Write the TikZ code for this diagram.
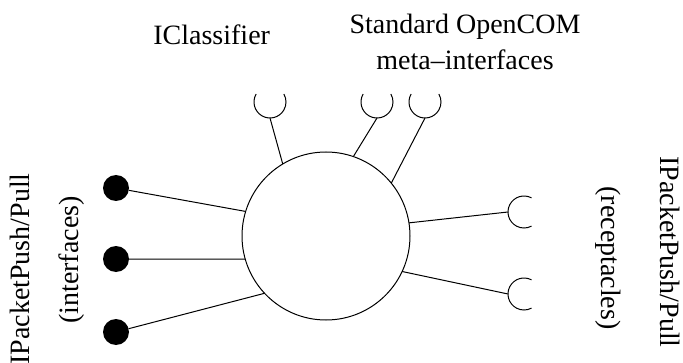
\documentclass[tikz,border=0pt]{standalone}
\usepackage{fontspec}
\setmainfont{Liberation Serif}
\usetikzlibrary{arrows}

\begin{document}
\begin{tikzpicture}[x=1pt,y=1pt
	,line width=1pt
	,every node/.style={inner sep=0pt,outer sep=0pt}]
  \tikzstyle{lbl}=[font=\fontsize{28}{36}\selectfont]
  \tikzstyle{iface}=[circle,fill=black,minimum size=26pt]
  \tikzstyle{recp}=[circle,minimum size=32pt]
  \useasboundingbox (0,0) rectangle (683,362);

  % the component
  \node[circle,draw,minimum size=168pt](comp) at (326,126) {};
  % 3 interfaces
  \node[iface](if1) at (116,174) {};
  \node[iface](if2) at (116,103) {};
  \node[iface](if3) at (116,30) {};
  % 2 receptacles
  \node[recp](rc1) at (524,150) {};
  \node[recp](rc2) at (524,68) {};
  % 3 meta-interfaces
  \node[recp](mi1) at (270,260) {};
  \node[recp](mi2) at (377,260) {};
  \node[recp](mi3) at (425,260) {};
  % the cups
  \foreach \m in {mi1,mi2,mi3}
    \draw (\m.150) arc[start angle=150,end angle=390,radius=16pt];
  \foreach \r in {rc1,rc2}
    \draw (\r.62) arc[start angle=62,end angle=298,radius=16pt];

  % links
  \draw (if1)       -- (comp.163);
  \draw (if2)       -- (comp.196);
  \draw (if3)       -- (comp.223);
  \draw (comp.9)    -- (rc1.west);
  \draw (comp.-25)  -- (rc2.west);
  \draw (comp.121)  -- (mi1.south);
  \draw (comp.71)   -- (mi2.south);
  \draw (comp.39)   -- (mi3.south);

  % labels
  \node[lbl,anchor=base east](iclass) at (270,317) {IClassifier};
  \node[lbl,align=center](meta) at (465,320) {Standard OpenCOM\\meta--interfaces};
  \node[lbl,rotate=90](ifname) at (20,93) {IPacketPush/Pull};
  \node[lbl,rotate=90](iftype) at (72,102) {(interfaces)};
  \node[lbl,rotate=-90](rcname) at (670,110) {IPacketPush/Pull};
  \node[lbl,rotate=-90](rctype) at (608,104) {(receptacles)};
\end{tikzpicture}
\end{document}
